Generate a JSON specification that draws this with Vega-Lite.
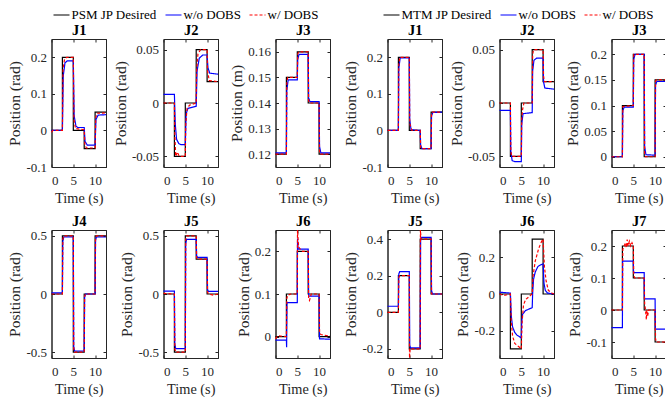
{
"$schema":"https://vega.github.io/schema/vega-lite/v6.json",
"autosize":{"type":"none"},
"padding":{"left":51.5,"top":39,"right":613.5,"bottom":358},
"config":{
"font":"Liberation Serif",
"view":{"stroke":"#262626","strokeWidth":1},
"axis":{"labelFont":"Liberation Serif","labelFontSize":13,"labelColor":"#262626","titleFont":"Liberation Serif","titleFontSize":14.3,"titleFontWeight":"normal","titleColor":"#262626","domainColor":"#262626","tickColor":"#262626","tickSize":-3,"labelPadding":8,"grid":false,"titlePadding":3},
"axisBottom":{"labelPadding":10,"titlePadding":4},
"axisLeft":{"titleFontSize":15.5},
"axisTop":{"labels":false,"titleFontWeight":"bold","titleFontSize":14.5,"titleColor":"#000000","titlePadding":1},
"axisRight":{"labels":false},
"legend":{"orient":"none","direction":"horizontal","symbolType":"stroke","symbolSize":256,"symbolStrokeWidth":1.5,"labelFont":"Liberation Serif","labelFontSize":13,"labelColor":"#000000","labelOffset":1,"columnPadding":5,"padding":0},
"line":{"strokeWidth":1.2,"clip":true}
},
"datasets":{"d":[
{"p":1,"s":"d","t":0,"v":0},{"p":1,"s":"d","t":2.5,"v":0.2},{"p":1,"s":"d","t":5,"v":0},{"p":1,"s":"d","t":7.5,"v":-0.05},{"p":1,"s":"d","t":10,"v":0.05},{"p":1,"s":"d","t":12.5,"v":0.05},
{"p":1,"s":"b","t":0,"v":0},{"p":1,"s":"b","t":2.5,"v":0},{"p":1,"s":"b","t":2.7,"v":0.15},{"p":1,"s":"b","t":3.1,"v":0.185},{"p":1,"s":"b","t":3.6,"v":0.19},{"p":1,"s":"b","t":5,"v":0.19},{"p":1,"s":"b","t":5.2,"v":0.04},{"p":1,"s":"b","t":5.6,"v":0.012},{"p":1,"s":"b","t":6,"v":0.008},{"p":1,"s":"b","t":7.5,"v":0.008},{"p":1,"s":"b","t":7.7,"v":-0.03},{"p":1,"s":"b","t":8.2,"v":-0.04},{"p":1,"s":"b","t":10,"v":-0.04},{"p":1,"s":"b","t":10.2,"v":0.03},{"p":1,"s":"b","t":10.7,"v":0.042},{"p":1,"s":"b","t":12.5,"v":0.043},
{"p":1,"s":"r","t":0,"v":-0.005},{"p":1,"s":"r","t":0.3,"v":0},{"p":1,"s":"r","t":2.5,"v":0},{"p":1,"s":"r","t":2.65,"v":0.17},{"p":1,"s":"r","t":3,"v":0.195},{"p":1,"s":"r","t":3.5,"v":0.2},{"p":1,"s":"r","t":5,"v":0.2},{"p":1,"s":"r","t":5.15,"v":0.03},{"p":1,"s":"r","t":5.5,"v":0.005},{"p":1,"s":"r","t":7.5,"v":0.002},{"p":1,"s":"r","t":7.65,"v":-0.04},{"p":1,"s":"r","t":8,"v":-0.048},{"p":1,"s":"r","t":10,"v":-0.048},{"p":1,"s":"r","t":10.15,"v":0.035},{"p":1,"s":"r","t":10.5,"v":0.047},{"p":1,"s":"r","t":12.5,"v":0.048},
{"p":2,"s":"d","t":0,"v":0},{"p":2,"s":"d","t":2.5,"v":-0.05},{"p":2,"s":"d","t":5,"v":0},{"p":2,"s":"d","t":7.5,"v":0.05},{"p":2,"s":"d","t":10,"v":0.02},{"p":2,"s":"d","t":12.5,"v":0.02},
{"p":2,"s":"b","t":0,"v":0.008},{"p":2,"s":"b","t":2.5,"v":0.008},{"p":2,"s":"b","t":2.7,"v":-0.02},{"p":2,"s":"b","t":3,"v":-0.034},{"p":2,"s":"b","t":3.5,"v":-0.038},{"p":2,"s":"b","t":4,"v":-0.039},{"p":2,"s":"b","t":5,"v":-0.039},{"p":2,"s":"b","t":5.2,"v":-0.01},{"p":2,"s":"b","t":5.6,"v":-0.005},{"p":2,"s":"b","t":7.5,"v":-0.003},{"p":2,"s":"b","t":7.7,"v":0.03},{"p":2,"s":"b","t":8.2,"v":0.042},{"p":2,"s":"b","t":9,"v":0.045},{"p":2,"s":"b","t":10,"v":0.045},{"p":2,"s":"b","t":10.2,"v":0.033},{"p":2,"s":"b","t":10.6,"v":0.028},{"p":2,"s":"b","t":12.5,"v":0.027},
{"p":2,"s":"r","t":0,"v":0},{"p":2,"s":"r","t":2.5,"v":0},{"p":2,"s":"r","t":2.6,"v":-0.03},{"p":2,"s":"r","t":2.8,"v":-0.05},{"p":2,"s":"r","t":3.2,"v":-0.046},{"p":2,"s":"r","t":3.6,"v":-0.05},{"p":2,"s":"r","t":5,"v":-0.05},{"p":2,"s":"r","t":5.1,"v":-0.02},{"p":2,"s":"r","t":5.4,"v":-0.005},{"p":2,"s":"r","t":6,"v":-0.002},{"p":2,"s":"r","t":7.5,"v":0},{"p":2,"s":"r","t":7.6,"v":0.03},{"p":2,"s":"r","t":7.9,"v":0.046},{"p":2,"s":"r","t":8.5,"v":0.05},{"p":2,"s":"r","t":10,"v":0.05},{"p":2,"s":"r","t":10.1,"v":0.03},{"p":2,"s":"r","t":10.5,"v":0.021},{"p":2,"s":"r","t":12.5,"v":0.02},
{"p":3,"s":"d","t":0,"v":0.12},{"p":3,"s":"d","t":2.5,"v":0.15},{"p":3,"s":"d","t":5,"v":0.16},{"p":3,"s":"d","t":7.5,"v":0.14},{"p":3,"s":"d","t":10,"v":0.12},{"p":3,"s":"d","t":12.5,"v":0.12},
{"p":3,"s":"b","t":0,"v":0.1205},{"p":3,"s":"b","t":2.5,"v":0.1205},{"p":3,"s":"b","t":2.6,"v":0.145},{"p":3,"s":"b","t":2.9,"v":0.149},{"p":3,"s":"b","t":5,"v":0.149},{"p":3,"s":"b","t":5.1,"v":0.157},{"p":3,"s":"b","t":5.4,"v":0.159},{"p":3,"s":"b","t":7.5,"v":0.159},{"p":3,"s":"b","t":7.6,"v":0.142},{"p":3,"s":"b","t":7.9,"v":0.1405},{"p":3,"s":"b","t":10,"v":0.1405},{"p":3,"s":"b","t":10.1,"v":0.123},{"p":3,"s":"b","t":10.4,"v":0.1205},{"p":3,"s":"b","t":12.5,"v":0.1205},
{"p":3,"s":"r","t":0,"v":0.12},{"p":3,"s":"r","t":2.5,"v":0.12},{"p":3,"s":"r","t":2.6,"v":0.148},{"p":3,"s":"r","t":2.8,"v":0.15},{"p":3,"s":"r","t":5,"v":0.15},{"p":3,"s":"r","t":5.1,"v":0.159},{"p":3,"s":"r","t":5.3,"v":0.16},{"p":3,"s":"r","t":7.5,"v":0.16},{"p":3,"s":"r","t":7.6,"v":0.141},{"p":3,"s":"r","t":7.8,"v":0.14},{"p":3,"s":"r","t":10,"v":0.14},{"p":3,"s":"r","t":10.1,"v":0.121},{"p":3,"s":"r","t":10.3,"v":0.12},{"p":3,"s":"r","t":12.5,"v":0.12},
{"p":4,"s":"d","t":0,"v":0},{"p":4,"s":"d","t":2.5,"v":0.5},{"p":4,"s":"d","t":5,"v":-0.5},{"p":4,"s":"d","t":7.5,"v":0},{"p":4,"s":"d","t":10,"v":0.5},{"p":4,"s":"d","t":12.5,"v":0.5},
{"p":4,"s":"b","t":0,"v":0.01},{"p":4,"s":"b","t":2.5,"v":0.01},{"p":4,"s":"b","t":2.6,"v":0.45},{"p":4,"s":"b","t":2.8,"v":0.49},{"p":4,"s":"b","t":5,"v":0.49},{"p":4,"s":"b","t":5.1,"v":-0.45},{"p":4,"s":"b","t":5.3,"v":-0.49},{"p":4,"s":"b","t":7.5,"v":-0.49},{"p":4,"s":"b","t":7.6,"v":-0.03},{"p":4,"s":"b","t":7.8,"v":0},{"p":4,"s":"b","t":10,"v":0},{"p":4,"s":"b","t":10.1,"v":0.46},{"p":4,"s":"b","t":10.3,"v":0.49},{"p":4,"s":"b","t":12.5,"v":0.49},
{"p":4,"s":"r","t":0,"v":0},{"p":4,"s":"r","t":2.5,"v":0},{"p":4,"s":"r","t":2.6,"v":0.47},{"p":4,"s":"r","t":2.8,"v":0.5},{"p":4,"s":"r","t":5,"v":0.5},{"p":4,"s":"r","t":5.1,"v":-0.47},{"p":4,"s":"r","t":5.3,"v":-0.5},{"p":4,"s":"r","t":7.5,"v":-0.5},{"p":4,"s":"r","t":7.6,"v":-0.02},{"p":4,"s":"r","t":7.8,"v":0},{"p":4,"s":"r","t":10,"v":0},{"p":4,"s":"r","t":10.1,"v":0.47},{"p":4,"s":"r","t":10.3,"v":0.5},{"p":4,"s":"r","t":12.5,"v":0.5},
{"p":5,"s":"d","t":0,"v":0},{"p":5,"s":"d","t":2.5,"v":-0.5},{"p":5,"s":"d","t":5,"v":0.5},{"p":5,"s":"d","t":7.5,"v":0.3},{"p":5,"s":"d","t":10,"v":0},{"p":5,"s":"d","t":12.5,"v":0},
{"p":5,"s":"b","t":0,"v":0.025},{"p":5,"s":"b","t":2.5,"v":0.025},{"p":5,"s":"b","t":2.6,"v":-0.43},{"p":5,"s":"b","t":2.8,"v":-0.47},{"p":5,"s":"b","t":5,"v":-0.47},{"p":5,"s":"b","t":5.1,"v":0.43},{"p":5,"s":"b","t":5.3,"v":0.47},{"p":5,"s":"b","t":7.5,"v":0.47},{"p":5,"s":"b","t":7.6,"v":0.33},{"p":5,"s":"b","t":7.8,"v":0.315},{"p":5,"s":"b","t":10,"v":0.315},{"p":5,"s":"b","t":10.1,"v":0.04},{"p":5,"s":"b","t":10.3,"v":0.022},{"p":5,"s":"b","t":12.5,"v":0.022},
{"p":5,"s":"r","t":0,"v":0.005},{"p":5,"s":"r","t":2.5,"v":0},{"p":5,"s":"r","t":2.6,"v":-0.47},{"p":5,"s":"r","t":2.8,"v":-0.5},{"p":5,"s":"r","t":5,"v":-0.5},{"p":5,"s":"r","t":5.1,"v":0.47},{"p":5,"s":"r","t":5.3,"v":0.5},{"p":5,"s":"r","t":7.5,"v":0.5},{"p":5,"s":"r","t":7.6,"v":0.31},{"p":5,"s":"r","t":7.8,"v":0.3},{"p":5,"s":"r","t":10,"v":0.3},{"p":5,"s":"r","t":10.1,"v":0.02},{"p":5,"s":"r","t":10.3,"v":0},{"p":5,"s":"r","t":11.5,"v":-0.01},{"p":5,"s":"r","t":12.5,"v":0},
{"p":6,"s":"d","t":0,"v":0},{"p":6,"s":"d","t":2.5,"v":0.1},{"p":6,"s":"d","t":5,"v":0.2},{"p":6,"s":"d","t":7.5,"v":0.1},{"p":6,"s":"d","t":10,"v":0},{"p":6,"s":"d","t":12.5,"v":0},
{"p":6,"s":"b","t":0,"v":-0.008},{"p":6,"s":"b","t":2.5,"v":-0.008},{"p":6,"s":"b","t":2.55,"v":-0.025},{"p":6,"s":"b","t":2.65,"v":0.08},{"p":6,"s":"b","t":5,"v":0.08},{"p":6,"s":"b","t":5.05,"v":0.23},{"p":6,"s":"b","t":5.2,"v":0.205},{"p":6,"s":"b","t":7.5,"v":0.205},{"p":6,"s":"b","t":7.6,"v":0.095},{"p":6,"s":"b","t":10,"v":0.095},{"p":6,"s":"b","t":10.1,"v":-0.005},{"p":6,"s":"b","t":12.5,"v":-0.006},
{"p":6,"s":"r","t":0,"v":-0.005},{"p":6,"s":"r","t":0.5,"v":0.002},{"p":6,"s":"r","t":2.5,"v":0},{"p":6,"s":"r","t":2.6,"v":0.09},{"p":6,"s":"r","t":2.8,"v":0.097},{"p":6,"s":"r","t":3.5,"v":0.1},{"p":6,"s":"r","t":5,"v":0.1},{"p":6,"s":"r","t":5.05,"v":0.25},{"p":6,"s":"r","t":5.3,"v":0.21},{"p":6,"s":"r","t":5.7,"v":0.205},{"p":6,"s":"r","t":6.2,"v":0.2},{"p":6,"s":"r","t":7.5,"v":0.2},{"p":6,"s":"r","t":7.6,"v":0.09},{"p":6,"s":"r","t":7.8,"v":0.085},{"p":6,"s":"r","t":8.2,"v":0.1},{"p":6,"s":"r","t":10,"v":0.1},{"p":6,"s":"r","t":10.1,"v":0.01},{"p":6,"s":"r","t":10.4,"v":0.005},{"p":6,"s":"r","t":11.5,"v":0.003},{"p":6,"s":"r","t":12.5,"v":0.002},
{"p":7,"s":"d","t":0,"v":0},{"p":7,"s":"d","t":2.5,"v":0.2},{"p":7,"s":"d","t":5,"v":0},{"p":7,"s":"d","t":7.5,"v":-0.05},{"p":7,"s":"d","t":10,"v":0.05},{"p":7,"s":"d","t":12.5,"v":0.05},
{"p":7,"s":"b","t":0,"v":0},{"p":7,"s":"b","t":2.5,"v":0},{"p":7,"s":"b","t":2.6,"v":0.17},{"p":7,"s":"b","t":2.9,"v":0.198},{"p":7,"s":"b","t":5,"v":0.198},{"p":7,"s":"b","t":5.1,"v":0.03},{"p":7,"s":"b","t":5.4,"v":0.002},{"p":7,"s":"b","t":7.5,"v":0},{"p":7,"s":"b","t":7.6,"v":-0.04},{"p":7,"s":"b","t":7.9,"v":-0.05},{"p":7,"s":"b","t":10,"v":-0.05},{"p":7,"s":"b","t":10.1,"v":0.04},{"p":7,"s":"b","t":10.4,"v":0.049},{"p":7,"s":"b","t":12.5,"v":0.05},
{"p":7,"s":"r","t":0,"v":0},{"p":7,"s":"r","t":2.5,"v":0},{"p":7,"s":"r","t":2.6,"v":0.18},{"p":7,"s":"r","t":2.8,"v":0.2},{"p":7,"s":"r","t":5,"v":0.2},{"p":7,"s":"r","t":5.1,"v":0.02},{"p":7,"s":"r","t":5.3,"v":0.01},{"p":7,"s":"r","t":5.6,"v":0},{"p":7,"s":"r","t":7.5,"v":0},{"p":7,"s":"r","t":7.6,"v":-0.045},{"p":7,"s":"r","t":7.8,"v":-0.05},{"p":7,"s":"r","t":10,"v":-0.05},{"p":7,"s":"r","t":10.1,"v":0.045},{"p":7,"s":"r","t":10.3,"v":0.05},{"p":7,"s":"r","t":12.5,"v":0.05},
{"p":8,"s":"d","t":0,"v":0},{"p":8,"s":"d","t":2.5,"v":-0.05},{"p":8,"s":"d","t":5,"v":0},{"p":8,"s":"d","t":7.5,"v":0.05},{"p":8,"s":"d","t":10,"v":0.02},{"p":8,"s":"d","t":12.5,"v":0.02},
{"p":8,"s":"b","t":0,"v":-0.007},{"p":8,"s":"b","t":2.5,"v":-0.007},{"p":8,"s":"b","t":2.6,"v":-0.045},{"p":8,"s":"b","t":2.9,"v":-0.054},{"p":8,"s":"b","t":3.5,"v":-0.055},{"p":8,"s":"b","t":5,"v":-0.055},{"p":8,"s":"b","t":5.1,"v":-0.02},{"p":8,"s":"b","t":5.4,"v":-0.01},{"p":8,"s":"b","t":7.5,"v":-0.009},{"p":8,"s":"b","t":7.6,"v":0.03},{"p":8,"s":"b","t":7.9,"v":0.04},{"p":8,"s":"b","t":8.5,"v":0.042},{"p":8,"s":"b","t":10,"v":0.042},{"p":8,"s":"b","t":10.1,"v":0.02},{"p":8,"s":"b","t":10.4,"v":0.014},{"p":8,"s":"b","t":12.5,"v":0.013},
{"p":8,"s":"r","t":0,"v":0},{"p":8,"s":"r","t":2.5,"v":0},{"p":8,"s":"r","t":2.6,"v":-0.045},{"p":8,"s":"r","t":2.8,"v":-0.05},{"p":8,"s":"r","t":5,"v":-0.05},{"p":8,"s":"r","t":5.1,"v":-0.015},{"p":8,"s":"r","t":5.3,"v":-0.006},{"p":8,"s":"r","t":5.6,"v":0},{"p":8,"s":"r","t":7.5,"v":0},{"p":8,"s":"r","t":7.6,"v":0.045},{"p":8,"s":"r","t":7.8,"v":0.05},{"p":8,"s":"r","t":10,"v":0.05},{"p":8,"s":"r","t":10.1,"v":0.025},{"p":8,"s":"r","t":10.3,"v":0.02},{"p":8,"s":"r","t":12.5,"v":0.02},
{"p":9,"s":"d","t":0,"v":0},{"p":9,"s":"d","t":2.5,"v":0.1},{"p":9,"s":"d","t":5,"v":0.2},{"p":9,"s":"d","t":7.5,"v":0},{"p":9,"s":"d","t":10,"v":0.15},{"p":9,"s":"d","t":12.5,"v":0.15},
{"p":9,"s":"b","t":0,"v":0},{"p":9,"s":"b","t":2.5,"v":0},{"p":9,"s":"b","t":2.6,"v":0.09},{"p":9,"s":"b","t":2.9,"v":0.097},{"p":9,"s":"b","t":5,"v":0.097},{"p":9,"s":"b","t":5.1,"v":0.19},{"p":9,"s":"b","t":5.4,"v":0.2},{"p":9,"s":"b","t":7.5,"v":0.2},{"p":9,"s":"b","t":7.6,"v":0.02},{"p":9,"s":"b","t":7.9,"v":0.004},{"p":9,"s":"b","t":10,"v":0.003},{"p":9,"s":"b","t":10.1,"v":0.14},{"p":9,"s":"b","t":10.4,"v":0.147},{"p":9,"s":"b","t":12.5,"v":0.147},
{"p":9,"s":"r","t":0,"v":0},{"p":9,"s":"r","t":2.5,"v":0},{"p":9,"s":"r","t":2.6,"v":0.098},{"p":9,"s":"r","t":5,"v":0.1},{"p":9,"s":"r","t":5.1,"v":0.2},{"p":9,"s":"r","t":7.5,"v":0.2},{"p":9,"s":"r","t":7.6,"v":0.005},{"p":9,"s":"r","t":7.8,"v":0},{"p":9,"s":"r","t":10,"v":0},{"p":9,"s":"r","t":10.1,"v":0.148},{"p":9,"s":"r","t":10.3,"v":0.15},{"p":9,"s":"r","t":12.5,"v":0.15},
{"p":10,"s":"d","t":0,"v":0},{"p":10,"s":"d","t":2.5,"v":0.2},{"p":10,"s":"d","t":5,"v":-0.2},{"p":10,"s":"d","t":7.5,"v":0.4},{"p":10,"s":"d","t":10,"v":0.1},{"p":10,"s":"d","t":12.5,"v":0.1},
{"p":10,"s":"b","t":0,"v":0.033},{"p":10,"s":"b","t":2.5,"v":0.033},{"p":10,"s":"b","t":2.6,"v":0.21},{"p":10,"s":"b","t":2.8,"v":0.222},{"p":10,"s":"b","t":5,"v":0.222},{"p":10,"s":"b","t":5.1,"v":-0.18},{"p":10,"s":"b","t":5.3,"v":-0.195},{"p":10,"s":"b","t":7.5,"v":-0.195},{"p":10,"s":"b","t":7.6,"v":0.39},{"p":10,"s":"b","t":7.8,"v":0.41},{"p":10,"s":"b","t":10,"v":0.41},{"p":10,"s":"b","t":10.1,"v":0.12},{"p":10,"s":"b","t":10.3,"v":0.1},{"p":10,"s":"b","t":12.5,"v":0.1},
{"p":10,"s":"r","t":0,"v":0},{"p":10,"s":"r","t":2.5,"v":0},{"p":10,"s":"r","t":2.6,"v":0.19},{"p":10,"s":"r","t":2.8,"v":0.2},{"p":10,"s":"r","t":5,"v":0.2},{"p":10,"s":"r","t":5.05,"v":-0.25},{"p":10,"s":"r","t":5.2,"v":-0.2},{"p":10,"s":"r","t":7.5,"v":-0.2},{"p":10,"s":"r","t":7.55,"v":0.45},{"p":10,"s":"r","t":7.7,"v":0.4},{"p":10,"s":"r","t":10,"v":0.4},{"p":10,"s":"r","t":10.1,"v":0.1},{"p":10,"s":"r","t":12.5,"v":0.1},
{"p":11,"s":"d","t":0,"v":0},{"p":11,"s":"d","t":2.5,"v":-0.3},{"p":11,"s":"d","t":5,"v":0},{"p":11,"s":"d","t":7.5,"v":0.3},{"p":11,"s":"d","t":10,"v":0},{"p":11,"s":"d","t":12.5,"v":0},
{"p":11,"s":"b","t":0,"v":0.01},{"p":11,"s":"b","t":2.5,"v":0.005},{"p":11,"s":"b","t":2.7,"v":-0.12},{"p":11,"s":"b","t":3,"v":-0.18},{"p":11,"s":"b","t":3.5,"v":-0.21},{"p":11,"s":"b","t":4,"v":-0.225},{"p":11,"s":"b","t":5,"v":-0.24},{"p":11,"s":"b","t":5.1,"v":-0.15},{"p":11,"s":"b","t":5.3,"v":-0.11},{"p":11,"s":"b","t":6,"v":-0.09},{"p":11,"s":"b","t":7,"v":-0.08},{"p":11,"s":"b","t":7.5,"v":-0.075},{"p":11,"s":"b","t":7.6,"v":0},{"p":11,"s":"b","t":7.8,"v":0.08},{"p":11,"s":"b","t":8.2,"v":0.12},{"p":11,"s":"b","t":8.8,"v":0.15},{"p":11,"s":"b","t":9.5,"v":0.16},{"p":11,"s":"b","t":10,"v":0.165},{"p":11,"s":"b","t":10.2,"v":0.06},{"p":11,"s":"b","t":10.5,"v":0.02},{"p":11,"s":"b","t":11,"v":0.005},{"p":11,"s":"b","t":12.5,"v":0},
{"p":11,"s":"r","t":0,"v":0},{"p":11,"s":"r","t":1,"v":-0.008},{"p":11,"s":"r","t":2.5,"v":0},{"p":11,"s":"r","t":2.7,"v":-0.15},{"p":11,"s":"r","t":3,"v":-0.23},{"p":11,"s":"r","t":3.5,"v":-0.27},{"p":11,"s":"r","t":4.5,"v":-0.29},{"p":11,"s":"r","t":5,"v":-0.3},{"p":11,"s":"r","t":5.2,"v":-0.15},{"p":11,"s":"r","t":5.5,"v":-0.06},{"p":11,"s":"r","t":6,"v":-0.03},{"p":11,"s":"r","t":7,"v":-0.01},{"p":11,"s":"r","t":7.5,"v":0},{"p":11,"s":"r","t":7.7,"v":0.1},{"p":11,"s":"r","t":8.2,"v":0.18},{"p":11,"s":"r","t":9,"v":0.25},{"p":11,"s":"r","t":9.7,"v":0.29},{"p":11,"s":"r","t":10,"v":0.3},{"p":11,"s":"r","t":10.3,"v":0.15},{"p":11,"s":"r","t":10.7,"v":0.07},{"p":11,"s":"r","t":11.2,"v":0.02},{"p":11,"s":"r","t":12,"v":0.005},{"p":11,"s":"r","t":12.5,"v":0},
{"p":12,"s":"d","t":0,"v":0},{"p":12,"s":"d","t":2.5,"v":0.2},{"p":12,"s":"d","t":5,"v":0.1},{"p":12,"s":"d","t":7.5,"v":0},{"p":12,"s":"d","t":10,"v":-0.1},{"p":12,"s":"d","t":12.5,"v":-0.1},
{"p":12,"s":"b","t":0,"v":-0.055},{"p":12,"s":"b","t":2.5,"v":-0.055},{"p":12,"s":"b","t":2.55,"v":0.153},{"p":12,"s":"b","t":5,"v":0.153},{"p":12,"s":"b","t":5.05,"v":0.117},{"p":12,"s":"b","t":7.5,"v":0.117},{"p":12,"s":"b","t":7.55,"v":0.035},{"p":12,"s":"b","t":10,"v":0.035},{"p":12,"s":"b","t":10.05,"v":-0.06},{"p":12,"s":"b","t":12.5,"v":-0.06},
{"p":12,"s":"r","t":0,"v":0},{"p":12,"s":"r","t":2.5,"v":0},{"p":12,"s":"r","t":2.6,"v":0.19},{"p":12,"s":"r","t":2.9,"v":0.2},{"p":12,"s":"r","t":3.2,"v":0.21},{"p":12,"s":"r","t":3.4,"v":0.195},{"p":12,"s":"r","t":3.6,"v":0.22},{"p":12,"s":"r","t":3.8,"v":0.2},{"p":12,"s":"r","t":4.1,"v":0.215},{"p":12,"s":"r","t":4.4,"v":0.2},{"p":12,"s":"r","t":4.7,"v":0.21},{"p":12,"s":"r","t":5,"v":0.2},{"p":12,"s":"r","t":5.1,"v":0.11},{"p":12,"s":"r","t":5.3,"v":0.1},{"p":12,"s":"r","t":7.5,"v":0.1},{"p":12,"s":"r","t":7.6,"v":0.02},{"p":12,"s":"r","t":7.8,"v":0},{"p":12,"s":"r","t":8,"v":-0.03},{"p":12,"s":"r","t":8.1,"v":0},{"p":12,"s":"r","t":8.3,"v":-0.02},{"p":12,"s":"r","t":8.5,"v":0},{"p":12,"s":"r","t":10,"v":0},{"p":12,"s":"r","t":10.1,"v":-0.09},{"p":12,"s":"r","t":10.3,"v":-0.1},{"p":12,"s":"r","t":12.5,"v":-0.1}
]},
"columns":6,
"spacing":{"column":57,"row":63},
"bounds":"flush",
"resolve":{"scale":{"color":"independent","strokeDash":"independent"}},
"concat":[
{"width":54.5,"height":128,"data":{"name":"d"},"transform":[{"filter":"datum.p==1"}],"encoding":{"color":{"field":"s","type":"nominal","scale":{"domain":["d","b","r"],"range":["#000000","#0000ff","#ff0000"]},"legend":{"title":null,"legendX":1,"legendY":-33,"labelExpr":"datum.value=='d'?'PSM JP Desired':datum.value=='b'?'w/o DOBS':'w/ DOBS'"}},"strokeDash":{"field":"s","type":"nominal","scale":{"domain":["d","b","r"],"range":[[1,0],[1,0],[3,2]]},"legend":{"title":null,"legendX":1,"legendY":-33,"labelExpr":"datum.value=='d'?'PSM JP Desired':datum.value=='b'?'w/o DOBS':'w/ DOBS'"}}},"layer":[
{"transform":[{"filter":"datum.s=='d'"}],"mark":{"type":"line","interpolate":"step-after"},"encoding":{"x":{"field":"t","type":"quantitative","scale":{"domain":[0,12.5],"nice":false},"axis":{"orient":"bottom","values":[0,5,10],"title":"Time (s)"}},"y":{"field":"v","type":"quantitative","scale":{"domain":[-0.1,0.25],"nice":false,"zero":false},"axis":{"orient":"left","values":[-0.1,0,0.1,0.2],"title":"Position (rad)","labelExpr":"datum.value+''"}}}},
{"transform":[{"filter":"datum.s!='d'"}],"mark":{"type":"line"},"encoding":{"x":{"field":"t","type":"quantitative","scale":{"domain":[0,12.5],"nice":false},"axis":{"orient":"top","values":[0,5,10],"title":"J1"}},"y":{"field":"v","type":"quantitative","scale":{"domain":[-0.1,0.25],"nice":false,"zero":false},"axis":{"orient":"right","values":[-0.1,0,0.1,0.2],"title":null}}}}]},
{"width":54.5,"height":128,"data":{"name":"d"},"transform":[{"filter":"datum.p==2"}],"encoding":{"color":{"field":"s","type":"nominal","scale":{"domain":["d","b","r"],"range":["#000000","#0000ff","#ff0000"]},"legend":null},"strokeDash":{"field":"s","type":"nominal","scale":{"domain":["d","b","r"],"range":[[1,0],[1,0],[3,2]]},"legend":null}},"layer":[
{"transform":[{"filter":"datum.s=='d'"}],"mark":{"type":"line","interpolate":"step-after"},"encoding":{"x":{"field":"t","type":"quantitative","scale":{"domain":[0,12.5],"nice":false},"axis":{"orient":"bottom","values":[0,5,10],"title":"Time (s)"}},"y":{"field":"v","type":"quantitative","scale":{"domain":[-0.06,0.06],"nice":false,"zero":false},"axis":{"orient":"left","values":[-0.05,0,0.05],"title":"Position (rad)","labelExpr":"datum.value+''"}}}},
{"transform":[{"filter":"datum.s!='d'"}],"mark":{"type":"line"},"encoding":{"x":{"field":"t","type":"quantitative","scale":{"domain":[0,12.5],"nice":false},"axis":{"orient":"top","values":[0,5,10],"title":"J2"}},"y":{"field":"v","type":"quantitative","scale":{"domain":[-0.06,0.06],"nice":false,"zero":false},"axis":{"orient":"right","values":[-0.05,0,0.05],"title":null}}}}]},
{"width":54.5,"height":128,"data":{"name":"d"},"transform":[{"filter":"datum.p==3"}],"encoding":{"color":{"field":"s","type":"nominal","scale":{"domain":["d","b","r"],"range":["#000000","#0000ff","#ff0000"]},"legend":null},"strokeDash":{"field":"s","type":"nominal","scale":{"domain":["d","b","r"],"range":[[1,0],[1,0],[3,2]]},"legend":null}},"layer":[
{"transform":[{"filter":"datum.s=='d'"}],"mark":{"type":"line","interpolate":"step-after"},"encoding":{"x":{"field":"t","type":"quantitative","scale":{"domain":[0,12.5],"nice":false},"axis":{"orient":"bottom","values":[0,5,10],"title":"Time (s)"}},"y":{"field":"v","type":"quantitative","scale":{"domain":[0.115,0.165],"nice":false,"zero":false},"axis":{"orient":"left","values":[0.12,0.13,0.14,0.15,0.16],"title":"Position (m)","labelExpr":"datum.value+''"}}}},
{"transform":[{"filter":"datum.s!='d'"}],"mark":{"type":"line"},"encoding":{"x":{"field":"t","type":"quantitative","scale":{"domain":[0,12.5],"nice":false},"axis":{"orient":"top","values":[0,5,10],"title":"J3"}},"y":{"field":"v","type":"quantitative","scale":{"domain":[0.115,0.165],"nice":false,"zero":false},"axis":{"orient":"right","values":[0.12,0.13,0.14,0.15,0.16],"title":null}}}}]},
{"width":54.5,"height":128,"data":{"name":"d"},"transform":[{"filter":"datum.p==7"}],"encoding":{"color":{"field":"s","type":"nominal","scale":{"domain":["d","b","r"],"range":["#000000","#0000ff","#ff0000"]},"legend":{"title":null,"legendX":-5,"legendY":-33,"labelExpr":"datum.value=='d'?'MTM JP Desired':datum.value=='b'?'w/o DOBS':'w/ DOBS'"}},"strokeDash":{"field":"s","type":"nominal","scale":{"domain":["d","b","r"],"range":[[1,0],[1,0],[3,2]]},"legend":{"title":null,"legendX":-5,"legendY":-33,"labelExpr":"datum.value=='d'?'MTM JP Desired':datum.value=='b'?'w/o DOBS':'w/ DOBS'"}}},"layer":[
{"transform":[{"filter":"datum.s=='d'"}],"mark":{"type":"line","interpolate":"step-after"},"encoding":{"x":{"field":"t","type":"quantitative","scale":{"domain":[0,12.5],"nice":false},"axis":{"orient":"bottom","values":[0,5,10],"title":"Time (s)"}},"y":{"field":"v","type":"quantitative","scale":{"domain":[-0.1,0.25],"nice":false,"zero":false},"axis":{"orient":"left","values":[-0.1,0,0.1,0.2],"title":"Position (rad)","labelExpr":"datum.value+''"}}}},
{"transform":[{"filter":"datum.s!='d'"}],"mark":{"type":"line"},"encoding":{"x":{"field":"t","type":"quantitative","scale":{"domain":[0,12.5],"nice":false},"axis":{"orient":"top","values":[0,5,10],"title":"J1"}},"y":{"field":"v","type":"quantitative","scale":{"domain":[-0.1,0.25],"nice":false,"zero":false},"axis":{"orient":"right","values":[-0.1,0,0.1,0.2],"title":null}}}}]},
{"width":54.5,"height":128,"data":{"name":"d"},"transform":[{"filter":"datum.p==8"}],"encoding":{"color":{"field":"s","type":"nominal","scale":{"domain":["d","b","r"],"range":["#000000","#0000ff","#ff0000"]},"legend":null},"strokeDash":{"field":"s","type":"nominal","scale":{"domain":["d","b","r"],"range":[[1,0],[1,0],[3,2]]},"legend":null}},"layer":[
{"transform":[{"filter":"datum.s=='d'"}],"mark":{"type":"line","interpolate":"step-after"},"encoding":{"x":{"field":"t","type":"quantitative","scale":{"domain":[0,12.5],"nice":false},"axis":{"orient":"bottom","values":[0,5,10],"title":"Time (s)"}},"y":{"field":"v","type":"quantitative","scale":{"domain":[-0.06,0.06],"nice":false,"zero":false},"axis":{"orient":"left","values":[-0.05,0,0.05],"title":"Position (rad)","labelExpr":"datum.value+''"}}}},
{"transform":[{"filter":"datum.s!='d'"}],"mark":{"type":"line"},"encoding":{"x":{"field":"t","type":"quantitative","scale":{"domain":[0,12.5],"nice":false},"axis":{"orient":"top","values":[0,5,10],"title":"J2"}},"y":{"field":"v","type":"quantitative","scale":{"domain":[-0.06,0.06],"nice":false,"zero":false},"axis":{"orient":"right","values":[-0.05,0,0.05],"title":null}}}}]},
{"width":54.5,"height":128,"data":{"name":"d"},"transform":[{"filter":"datum.p==9"}],"encoding":{"color":{"field":"s","type":"nominal","scale":{"domain":["d","b","r"],"range":["#000000","#0000ff","#ff0000"]},"legend":null},"strokeDash":{"field":"s","type":"nominal","scale":{"domain":["d","b","r"],"range":[[1,0],[1,0],[3,2]]},"legend":null}},"layer":[
{"transform":[{"filter":"datum.s=='d'"}],"mark":{"type":"line","interpolate":"step-after"},"encoding":{"x":{"field":"t","type":"quantitative","scale":{"domain":[0,12.5],"nice":false},"axis":{"orient":"bottom","values":[0,5,10],"title":"Time (s)"}},"y":{"field":"v","type":"quantitative","scale":{"domain":[-0.02,0.23],"nice":false,"zero":false},"axis":{"orient":"left","values":[0,0.05,0.1,0.15,0.2],"title":"Position (rad)","labelExpr":"datum.value+''"}}}},
{"transform":[{"filter":"datum.s!='d'"}],"mark":{"type":"line"},"encoding":{"x":{"field":"t","type":"quantitative","scale":{"domain":[0,12.5],"nice":false},"axis":{"orient":"top","values":[0,5,10],"title":"J3"}},"y":{"field":"v","type":"quantitative","scale":{"domain":[-0.02,0.23],"nice":false,"zero":false},"axis":{"orient":"right","values":[0,0.05,0.1,0.15,0.2],"title":null}}}}]},
{"width":54.5,"height":128,"data":{"name":"d"},"transform":[{"filter":"datum.p==4"}],"encoding":{"color":{"field":"s","type":"nominal","scale":{"domain":["d","b","r"],"range":["#000000","#0000ff","#ff0000"]},"legend":null},"strokeDash":{"field":"s","type":"nominal","scale":{"domain":["d","b","r"],"range":[[1,0],[1,0],[3,2]]},"legend":null}},"layer":[
{"transform":[{"filter":"datum.s=='d'"}],"mark":{"type":"line","interpolate":"step-after"},"encoding":{"x":{"field":"t","type":"quantitative","scale":{"domain":[0,12.5],"nice":false},"axis":{"orient":"bottom","values":[0,5,10],"title":"Time (s)"}},"y":{"field":"v","type":"quantitative","scale":{"domain":[-0.55,0.55],"nice":false,"zero":false},"axis":{"orient":"left","values":[-0.5,0,0.5],"title":"Position (rad)","labelExpr":"datum.value+''"}}}},
{"transform":[{"filter":"datum.s!='d'"}],"mark":{"type":"line"},"encoding":{"x":{"field":"t","type":"quantitative","scale":{"domain":[0,12.5],"nice":false},"axis":{"orient":"top","values":[0,5,10],"title":"J4"}},"y":{"field":"v","type":"quantitative","scale":{"domain":[-0.55,0.55],"nice":false,"zero":false},"axis":{"orient":"right","values":[-0.5,0,0.5],"title":null}}}}]},
{"width":54.5,"height":128,"data":{"name":"d"},"transform":[{"filter":"datum.p==5"}],"encoding":{"color":{"field":"s","type":"nominal","scale":{"domain":["d","b","r"],"range":["#000000","#0000ff","#ff0000"]},"legend":null},"strokeDash":{"field":"s","type":"nominal","scale":{"domain":["d","b","r"],"range":[[1,0],[1,0],[3,2]]},"legend":null}},"layer":[
{"transform":[{"filter":"datum.s=='d'"}],"mark":{"type":"line","interpolate":"step-after"},"encoding":{"x":{"field":"t","type":"quantitative","scale":{"domain":[0,12.5],"nice":false},"axis":{"orient":"bottom","values":[0,5,10],"title":"Time (s)"}},"y":{"field":"v","type":"quantitative","scale":{"domain":[-0.55,0.55],"nice":false,"zero":false},"axis":{"orient":"left","values":[-0.5,0,0.5],"title":"Position (rad)","labelExpr":"datum.value+''"}}}},
{"transform":[{"filter":"datum.s!='d'"}],"mark":{"type":"line"},"encoding":{"x":{"field":"t","type":"quantitative","scale":{"domain":[0,12.5],"nice":false},"axis":{"orient":"top","values":[0,5,10],"title":"J5"}},"y":{"field":"v","type":"quantitative","scale":{"domain":[-0.55,0.55],"nice":false,"zero":false},"axis":{"orient":"right","values":[-0.5,0,0.5],"title":null}}}}]},
{"width":54.5,"height":128,"data":{"name":"d"},"transform":[{"filter":"datum.p==6"}],"encoding":{"color":{"field":"s","type":"nominal","scale":{"domain":["d","b","r"],"range":["#000000","#0000ff","#ff0000"]},"legend":null},"strokeDash":{"field":"s","type":"nominal","scale":{"domain":["d","b","r"],"range":[[1,0],[1,0],[3,2]]},"legend":null}},"layer":[
{"transform":[{"filter":"datum.s=='d'"}],"mark":{"type":"line","interpolate":"step-after"},"encoding":{"x":{"field":"t","type":"quantitative","scale":{"domain":[0,12.5],"nice":false},"axis":{"orient":"bottom","values":[0,5,10],"title":"Time (s)"}},"y":{"field":"v","type":"quantitative","scale":{"domain":[-0.05,0.25],"nice":false,"zero":false},"axis":{"orient":"left","values":[0,0.1,0.2],"title":"Position (rad)","labelExpr":"datum.value+''"}}}},
{"transform":[{"filter":"datum.s!='d'"}],"mark":{"type":"line"},"encoding":{"x":{"field":"t","type":"quantitative","scale":{"domain":[0,12.5],"nice":false},"axis":{"orient":"top","values":[0,5,10],"title":"J6"}},"y":{"field":"v","type":"quantitative","scale":{"domain":[-0.05,0.25],"nice":false,"zero":false},"axis":{"orient":"right","values":[0,0.1,0.2],"title":null}}}}]},
{"width":54.5,"height":128,"data":{"name":"d"},"transform":[{"filter":"datum.p==10"}],"encoding":{"color":{"field":"s","type":"nominal","scale":{"domain":["d","b","r"],"range":["#000000","#0000ff","#ff0000"]},"legend":null},"strokeDash":{"field":"s","type":"nominal","scale":{"domain":["d","b","r"],"range":[[1,0],[1,0],[3,2]]},"legend":null}},"layer":[
{"transform":[{"filter":"datum.s=='d'"}],"mark":{"type":"line","interpolate":"step-after"},"encoding":{"x":{"field":"t","type":"quantitative","scale":{"domain":[0,12.5],"nice":false},"axis":{"orient":"bottom","values":[0,5,10],"title":"Time (s)"}},"y":{"field":"v","type":"quantitative","scale":{"domain":[-0.25,0.45],"nice":false,"zero":false},"axis":{"orient":"left","values":[-0.2,0,0.2,0.4],"title":"Position (rad)","labelExpr":"datum.value+''"}}}},
{"transform":[{"filter":"datum.s!='d'"}],"mark":{"type":"line"},"encoding":{"x":{"field":"t","type":"quantitative","scale":{"domain":[0,12.5],"nice":false},"axis":{"orient":"top","values":[0,5,10],"title":"J5"}},"y":{"field":"v","type":"quantitative","scale":{"domain":[-0.25,0.45],"nice":false,"zero":false},"axis":{"orient":"right","values":[-0.2,0,0.2,0.4],"title":null}}}}]},
{"width":54.5,"height":128,"data":{"name":"d"},"transform":[{"filter":"datum.p==11"}],"encoding":{"color":{"field":"s","type":"nominal","scale":{"domain":["d","b","r"],"range":["#000000","#0000ff","#ff0000"]},"legend":null},"strokeDash":{"field":"s","type":"nominal","scale":{"domain":["d","b","r"],"range":[[1,0],[1,0],[3,2]]},"legend":null}},"layer":[
{"transform":[{"filter":"datum.s=='d'"}],"mark":{"type":"line","interpolate":"step-after"},"encoding":{"x":{"field":"t","type":"quantitative","scale":{"domain":[0,12.5],"nice":false},"axis":{"orient":"bottom","values":[0,5,10],"title":"Time (s)"}},"y":{"field":"v","type":"quantitative","scale":{"domain":[-0.35,0.35],"nice":false,"zero":false},"axis":{"orient":"left","values":[-0.2,0,0.2],"title":"Position (rad)","labelExpr":"datum.value+''"}}}},
{"transform":[{"filter":"datum.s!='d'"}],"mark":{"type":"line"},"encoding":{"x":{"field":"t","type":"quantitative","scale":{"domain":[0,12.5],"nice":false},"axis":{"orient":"top","values":[0,5,10],"title":"J6"}},"y":{"field":"v","type":"quantitative","scale":{"domain":[-0.35,0.35],"nice":false,"zero":false},"axis":{"orient":"right","values":[-0.2,0,0.2],"title":null}}}}]},
{"width":54.5,"height":128,"data":{"name":"d"},"transform":[{"filter":"datum.p==12"}],"encoding":{"color":{"field":"s","type":"nominal","scale":{"domain":["d","b","r"],"range":["#000000","#0000ff","#ff0000"]},"legend":null},"strokeDash":{"field":"s","type":"nominal","scale":{"domain":["d","b","r"],"range":[[1,0],[1,0],[3,2]]},"legend":null}},"layer":[
{"transform":[{"filter":"datum.s=='d'"}],"mark":{"type":"line","interpolate":"step-after"},"encoding":{"x":{"field":"t","type":"quantitative","scale":{"domain":[0,12.5],"nice":false},"axis":{"orient":"bottom","values":[0,5,10],"title":"Time (s)"}},"y":{"field":"v","type":"quantitative","scale":{"domain":[-0.15,0.25],"nice":false,"zero":false},"axis":{"orient":"left","values":[-0.1,0,0.1,0.2],"title":"Position (rad)","labelExpr":"datum.value+''"}}}},
{"transform":[{"filter":"datum.s!='d'"}],"mark":{"type":"line"},"encoding":{"x":{"field":"t","type":"quantitative","scale":{"domain":[0,12.5],"nice":false},"axis":{"orient":"top","values":[0,5,10],"title":"J7"}},"y":{"field":"v","type":"quantitative","scale":{"domain":[-0.15,0.25],"nice":false,"zero":false},"axis":{"orient":"right","values":[-0.1,0,0.1,0.2],"title":null}}}}]}
]
}
